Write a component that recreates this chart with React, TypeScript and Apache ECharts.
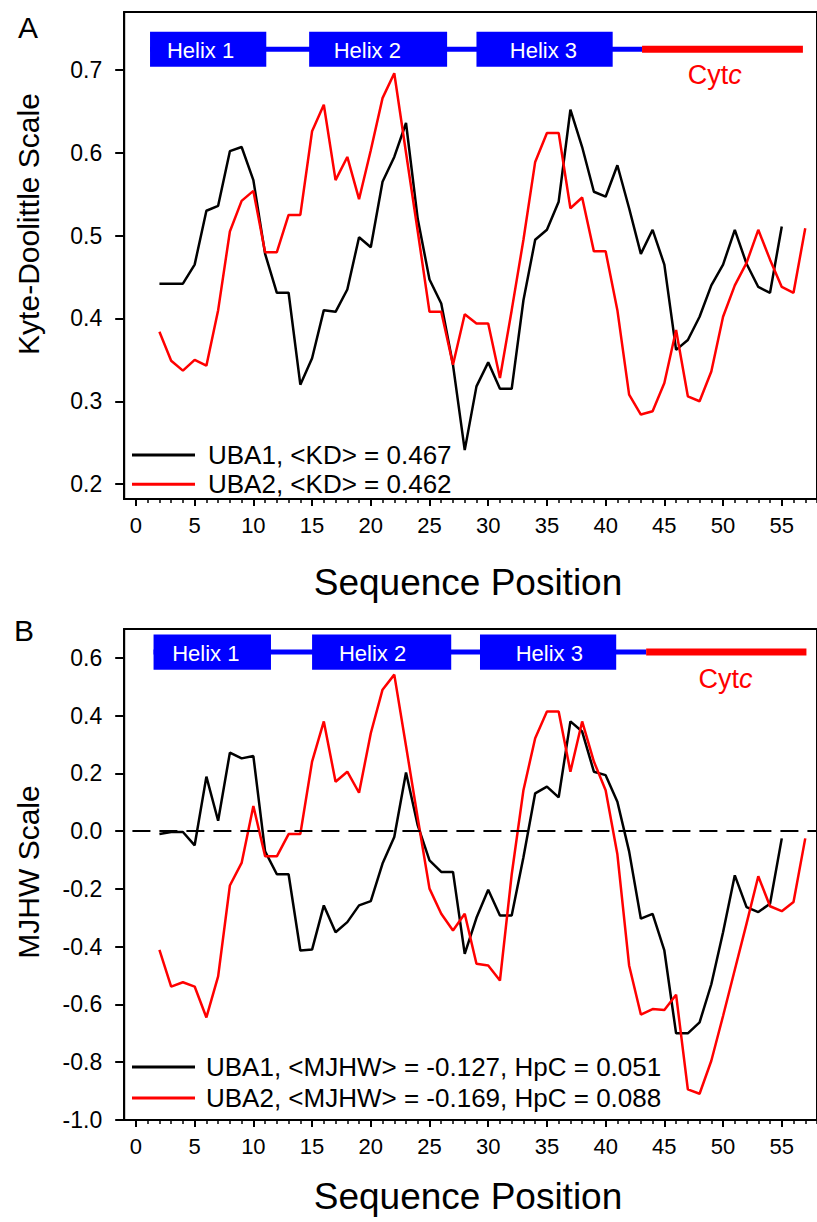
import React, { useEffect, useRef } from "react";
import * as echarts from "echarts";

// ---------- data ----------
const posUBA1 = [2,3,4,5,6,7,8,9,10,11,12,13,14,15,16,17,18,19,20,21,22,23,24,25,26,27,28,29,30,31,32,33,34,35,36,37,38,39,40,41,42,43,44,45,46,47,48,49,50,51,52,53,54,55];
const posUBA2 = [2,3,4,5,6,7,8,9,10,11,12,13,14,15,16,17,18,19,20,21,22,23,24,25,26,27,28,29,30,31,32,33,34,35,36,37,38,39,40,41,42,43,44,45,46,47,48,49,50,51,52,53,54,55,56,57];

const kdUBA1 = [0.442,0.442,0.442,0.465,0.530,0.536,0.602,0.607,0.567,0.478,0.431,0.431,0.320,0.352,0.410,0.408,0.435,0.498,0.486,0.565,0.595,0.636,0.520,0.447,0.418,0.344,0.241,0.318,0.347,0.315,0.315,0.422,0.495,0.507,0.541,0.652,0.607,0.553,0.547,0.585,0.533,0.478,0.507,0.465,0.362,0.374,0.402,0.440,0.465,0.507,0.466,0.438,0.431,0.511];
const kdUBA2 = [0.384,0.349,0.337,0.350,0.343,0.410,0.505,0.542,0.554,0.480,0.480,0.525,0.525,0.626,0.658,0.567,0.595,0.544,0.603,0.666,0.696,0.600,0.505,0.408,0.408,0.344,0.405,0.394,0.394,0.328,0.410,0.495,0.589,0.624,0.624,0.533,0.546,0.481,0.481,0.410,0.308,0.284,0.288,0.322,0.386,0.306,0.300,0.336,0.402,0.440,0.467,0.507,0.471,0.438,0.431,0.509];

const mjhwUBA1 = [-0.010,-0.003,-0.003,-0.049,0.189,0.036,0.272,0.252,0.260,-0.070,-0.149,-0.149,-0.413,-0.410,-0.257,-0.350,-0.315,-0.257,-0.242,-0.112,-0.020,0.203,0.020,-0.101,-0.141,-0.141,-0.425,-0.300,-0.203,-0.292,-0.292,-0.090,0.131,0.154,0.117,0.380,0.345,0.206,0.194,0.102,-0.070,-0.303,-0.286,-0.413,-0.700,-0.700,-0.662,-0.530,-0.350,-0.153,-0.263,-0.280,-0.251,-0.025];
const mjhwUBA2 = [-0.411,-0.538,-0.523,-0.538,-0.645,-0.503,-0.188,-0.110,0.087,-0.087,-0.087,-0.010,-0.010,0.241,0.380,0.171,0.206,0.133,0.339,0.490,0.542,0.295,0.045,-0.199,-0.286,-0.344,-0.286,-0.459,-0.465,-0.517,-0.150,0.142,0.322,0.414,0.414,0.206,0.380,0.241,0.142,-0.080,-0.465,-0.635,-0.616,-0.619,-0.566,-0.894,-0.909,-0.795,-0.640,-0.480,-0.320,-0.156,-0.260,-0.277,-0.245,-0.025];

const nameKD1 = "UBA1, <KD> = 0.467";
const nameKD2 = "UBA2, <KD> = 0.462";
const nameMJ1 = "UBA1, <MJHW> = -0.127, HpC = 0.051";
const nameMJ2 = "UBA2, <MJHW> = -0.169, HpC = 0.088";

const xMajorTicks = [0,5,10,15,20,25,30,35,40,45,50,55];
const xMinorTicks = [0,1,2,3,4,5,6,7,8,9,10,11,12,13,14,15,16,17,18,19,20,21,22,23,24,25,26,27,28,29,30,31,32,33,34,35,36,37,38,39,40,41,42,43,44,45,46,47,48,49,50,51,52,53,54,55,56,57,58];
const yTicksKD = [0.2,0.3,0.4,0.5,0.6,0.7];
const yTicksMJ = [-1.0,-0.8,-0.6,-0.4,-0.2,0,0.2,0.4,0.6];

// secondary structure (sequence positions)
const helixLabels = ["Helix 1", "Helix 2", "Helix 3"];
const helixStartA = [1.2, 14.75, 29.0];
const helixEndA = [11.1, 26.5, 40.6];
const linkerEndA = 43.1;
const cytcEndA = 56.8;
const helixStartB = [1.5, 15.0, 29.3];
const helixEndB = [11.5, 26.85, 40.9];
const linkerEndB = 43.45;
const cytcEndB = 57.1;

// ---------- layout ----------
const FONT = "'Liberation Sans', Arial, Helvetica, sans-serif";
const trackA = { y: 0.725, half: 0.0211, labelX: [5.5, 19.7, 34.7], cytcX: 49.3, cytcY: 0.6935 };
const trackB = { y: 0.620, half: 0.0608, labelX: [5.95, 20.15, 35.2], cytcX: 50.2, cytcY: 0.528 };

function pairs(xs: number[], ys: number[]) {
  return xs.map((x, i) => [x, ys[i]]);
}

function segRender(params: any, api: any) {
  const s = api.value(0), e = api.value(1), y = api.value(2), k = api.value(3);
  const p1 = api.coord([s, y]);
  const p2 = api.coord([e, y]);
  const th = k === 0 ? 5 : 7;
  return {
    type: "rect",
    shape: { x: p1[0], y: p1[1] - th / 2, width: p2[0] - p1[0], height: th },
    style: { fill: k === 0 ? "#0000ff" : "#ff0000" },
  };
}

function makeHelixRender(track: any) {
  return (params: any, api: any) => {
    const s = api.value(0), e = api.value(1);
    const tl = api.coord([s, track.y + track.half]);
    const br = api.coord([e, track.y - track.half]);
    const lp = api.coord([track.labelX[params.dataIndex], track.y]);
    return {
      type: "group",
      children: [
        { type: "rect", shape: { x: tl[0], y: tl[1], width: br[0] - tl[0], height: br[1] - tl[1] }, style: { fill: "#0000ff" } },
        {
          type: "text", x: lp[0], y: lp[1] + 1,
          style: { text: helixLabels[params.dataIndex], fill: "#ffffff", fontSize: 22, fontFamily: FONT, align: "center", verticalAlign: "middle" },
        },
      ],
    };
  };
}

function cytcRender(params: any, api: any) {
  const p = api.coord([api.value(0), api.value(1)]);
  return {
    type: "text", x: p[0], y: p[1],
    style: {
      text: "{a|Cyt}{b|c}",
      align: "center", verticalAlign: "middle",
      fontSize: 27, fontFamily: FONT, fill: "#ff0000",
      rich: {
        a: { fontSize: 27, fontFamily: FONT, fill: "#ff0000" },
        b: { fontSize: 27, fontFamily: FONT, fill: "#ff0000", fontStyle: "italic" },
      },
    },
  };
}

function xAxes(grid: number) {
  return [
    {
      type: "value", gridIndex: grid, min: -1, max: 58, position: "bottom",
      axisLine: { onZero: false, lineStyle: { color: "#000", width: 2 } },
      axisTick: { show: true, customValues: xMajorTicks, length: 7, lineStyle: { color: "#000", width: 2 } },
      axisLabel: { customValues: xMajorTicks, fontSize: 22, color: "#000", fontFamily: FONT, margin: 15 },
      splitLine: { show: false },
    },
    {
      type: "value", gridIndex: grid, min: -1, max: 58, position: "bottom", offset: 0,
      axisLine: { show: false, onZero: false },
      axisTick: { show: true, customValues: xMinorTicks, length: 4, lineStyle: { color: "#000", width: 1.5 } },
      axisLabel: { show: false },
      splitLine: { show: false },
    },
  ];
}

function yAxis(grid: number, min: number, max: number, ticks: number[]) {
  return {
    type: "value", gridIndex: grid, min, max, position: "left",
    axisLine: { show: true, onZero: false, lineStyle: { color: "#000", width: 2 } },
    axisTick: { show: true, customValues: ticks, length: 9, lineStyle: { color: "#000", width: 2 } },
    axisLabel: { customValues: ticks, fontSize: 23, color: "#000", fontFamily: FONT, margin: 22, formatter: (v: number) => v.toFixed(1) },
    splitLine: { show: false },
  };
}

function lineSeries(name: string, xs: number[], ys: number[], color: string, xi: number, yi: number, extra: any = {}) {
  return {
    type: "line", name, data: pairs(xs, ys), xAxisIndex: xi, yAxisIndex: yi,
    symbol: "none", lineStyle: { color, width: 2.5 }, itemStyle: { color }, z: 3, ...extra,
  };
}

function trackSeries(xi: number, yi: number, starts: number[], ends: number[], linkerEnd: number, cytcEnd: number, track: any) {
  return [
    {
      type: "custom", xAxisIndex: xi, yAxisIndex: yi, clip: false, z: 4,
      renderItem: segRender,
      encode: { x: [0, 1], y: 2 },
      data: [
        [starts[0], linkerEnd, track.y, 0],
        [linkerEnd, cytcEnd, track.y, 1],
      ],
    },
    {
      type: "custom", xAxisIndex: xi, yAxisIndex: yi, clip: false, z: 5,
      renderItem: makeHelixRender(track),
      encode: { x: [0, 1] },
      data: starts.map((s, i) => [s, ends[i]]),
    },
    {
      type: "custom", xAxisIndex: xi, yAxisIndex: yi, clip: false, z: 5,
      renderItem: cytcRender,
      encode: { x: 0, y: 1 },
      data: [[track.cytcX, track.cytcY]],
    },
  ];
}

export default function App() {
  const ref = useRef<HTMLDivElement>(null);
  useEffect(() => {
    if (!ref.current) return;
    const chart = echarts.init(ref.current, undefined, { renderer: "svg" });
    const option: any = {
      animation: false,
      backgroundColor: "#ffffff",
      textStyle: { fontFamily: FONT },
      grid: [
        { left: 124.2, top: 12, width: 698.6, height: 487, show: true, borderColor: "#000", borderWidth: 2, backgroundColor: "transparent" },
        { left: 124.2, top: 629, width: 698.6, height: 491, show: true, borderColor: "#000", borderWidth: 2, backgroundColor: "transparent" },
      ],
      xAxis: [...xAxes(0), ...xAxes(1)],
      yAxis: [yAxis(0, 0.182, 0.77, yTicksKD), yAxis(1, -1.0, 0.7, yTicksMJ)],
      legend: [
        {
          left: 127, top: 436, orient: "vertical", icon: "rect", itemWidth: 63, itemHeight: 3, itemGap: 1.3,
          data: [nameKD1, nameKD2],
          textStyle: { fontSize: 26, color: "#000", fontFamily: FONT, lineHeight: 28, padding: [0, 0, 0, 8] },
        },
        {
          left: 127, top: 1048, orient: "vertical", icon: "rect", itemWidth: 63, itemHeight: 3, itemGap: 3,
          data: [nameMJ1, nameMJ2],
          textStyle: { fontSize: 26, color: "#000", fontFamily: FONT, lineHeight: 28, padding: [0, 0, 0, 6] },
        },
      ],
      graphic: [
        { type: "text", x: 28, y: 27, style: { text: "A", fontSize: 30, fontFamily: FONT, fill: "#000", align: "center", verticalAlign: "middle" } },
        { type: "text", x: 24, y: 630, style: { text: "B", fontSize: 30, fontFamily: FONT, fill: "#000", align: "center", verticalAlign: "middle" } },
        { type: "text", x: 28, y: 224, rotation: Math.PI / 2, style: { text: "Kyte-Doolittle Scale", fontSize: 30, fontFamily: FONT, fill: "#000", align: "center", verticalAlign: "middle" } },
        { type: "text", x: 28, y: 872, rotation: Math.PI / 2, style: { text: "MJHW Scale", fontSize: 30, fontFamily: FONT, fill: "#000", align: "center", verticalAlign: "middle" } },
        { type: "text", x: 468, y: 582, style: { text: "Sequence Position", fontSize: 37, fontFamily: FONT, fill: "#000", align: "center", verticalAlign: "middle" } },
        { type: "text", x: 468, y: 1196, style: { text: "Sequence Position", fontSize: 37, fontFamily: FONT, fill: "#000", align: "center", verticalAlign: "middle" } },
      ],
      series: [
        lineSeries(nameKD1, posUBA1, kdUBA1, "#000000", 0, 0),
        lineSeries(nameKD2, posUBA2, kdUBA2, "#ff0000", 0, 0),
        ...trackSeries(0, 0, helixStartA, helixEndA, linkerEndA, cytcEndA, trackA),
        lineSeries(nameMJ1, posUBA1, mjhwUBA1, "#000000", 2, 1, {
          markLine: {
            silent: true, symbol: "none", label: { show: false },
            lineStyle: { color: "#000", width: 2, type: [18, 9] },
            data: [[{ coord: [-0.3, 0] }, { coord: [58, 0] }]],
          },
        }),
        lineSeries(nameMJ2, posUBA2, mjhwUBA2, "#ff0000", 2, 1),
        ...trackSeries(2, 1, helixStartB, helixEndB, linkerEndB, cytcEndB, trackB),
      ],
    };
    chart.setOption(option);
    return () => chart.dispose();
  }, []);
  return <div ref={ref} style={{ position: "absolute", left: 0, top: 0, width: 817, height: 1222, background: "#fff" }} />;
}
